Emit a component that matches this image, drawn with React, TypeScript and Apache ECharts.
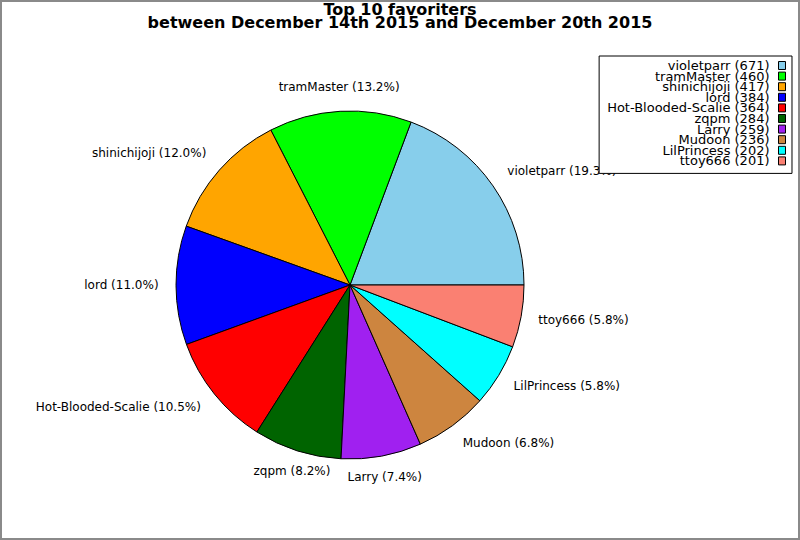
import React, { useEffect, useRef } from "react";
import * as echarts from "echarts";

const names = [
  "violetparr",
  "tramMaster",
  "shinichijoji",
  "lord",
  "Hot-Blooded-Scalie",
  "zqpm",
  "Larry",
  "Mudoon",
  "LilPrincess",
  "ttoy666",
];
const counts = [671, 460, 417, 384, 364, 284, 259, 236, 202, 201];
const colors = [
  "#87CEEB",
  "#00FF00",
  "#FFA500",
  "#0000FF",
  "#FF0000",
  "#006400",
  "#A020F0",
  "#CD853F",
  "#00FFFF",
  "#FA8072",
];
const titleText =
  "Top 10 favoriters\nbetween December 14th 2015 and December 20th 2015";

const CX = 350;
const CY = 285;
const R = 174;

export default function App() {
  const ref = useRef<HTMLDivElement>(null);
  useEffect(() => {
    if (!ref.current) return;
    const chart = echarts.init(ref.current, undefined, { renderer: "svg" });
    const total = counts.reduce((a, b) => a + b, 0);
    const mids: number[] = [];
    let acc = 0;
    counts.forEach((v) => {
      mids.push(((acc + v / 2) / total) * Math.PI * 2);
      acc += v;
    });
    const font = "DejaVu Sans";
    chart.setOption({
      animation: false,
      backgroundColor: "#fff",
      title: {
        text: titleText,
        left: "center",
        top: 3,
        padding: 0,
        textStyle: {
          fontFamily: font,
          fontSize: 16,
          fontWeight: "bold",
          color: "#000",
          lineHeight: 13,
          align: "center",
        },
      },
      legend: {
        orient: "vertical",
        right: 8,
        top: 56,
        align: "right",
        padding: [3, 6, 6, 8],
        itemGap: -2.4,
        itemWidth: 7,
        itemHeight: 8,
        icon: "rect",
        borderColor: "#000",
        borderWidth: 1,
        borderRadius: 0,
        backgroundColor: "#fff",
        itemStyle: { borderColor: "#000", borderWidth: 1 },
        textStyle: {
          fontFamily: font,
          fontSize: 13,
          color: "#000",
          padding: [0, 4, 0, 0],
        },
        formatter: (name: string) => {
          const i = names.indexOf(name);
          return `${name} (${counts[i]})`;
        },
        data: names,
      },
      graphic: [
        {
          type: "rect",
          shape: { x: 1, y: 1, width: 798, height: 538 },
          style: { fill: "none", stroke: "#8a8a8a", lineWidth: 2 },
          silent: true,
          z: 100,
        },
      ],
      series: [
        {
          type: "pie",
          center: [CX, CY],
          radius: R,
          startAngle: 0,
          clockwise: false,
          avoidLabelOverlap: false,
          itemStyle: { borderColor: "#000", borderWidth: 1 },
          emphasis: { disabled: true },
          label: {
            show: true,
            position: "outside",
            fontFamily: font,
            fontSize: 12,
            color: "#000",
            overflow: "none",
            formatter: (p: any) =>
              `${p.name} (${((p.value / total) * 100).toFixed(1)}%)`,
          },
          labelLine: { show: false },
          labelLayout: (params: any) => {
            const a = mids[params.dataIndex];
            const c = Math.cos(a);
            const s = Math.sin(a);
            const x = CX + 1.1 * R * c;
            const y = CY - 1.12 * R * s - (s > 0 ? 3 : 0);
            const align =
              Math.abs(c) < 0.5 ? "center" : c > 0 ? "left" : "right";
            return { x, y, align, verticalAlign: "middle" };
          },
          data: names.map((n, i) => ({
            name: n,
            value: counts[i],
            itemStyle: { color: colors[i] },
          })),
        },
      ],
    });
    return () => chart.dispose();
  }, []);
  return (
    <div
      ref={ref}
      style={{
        position: "absolute",
        left: 0,
        top: 0,
        width: 800,
        height: 540,
      }}
    />
  );
}
